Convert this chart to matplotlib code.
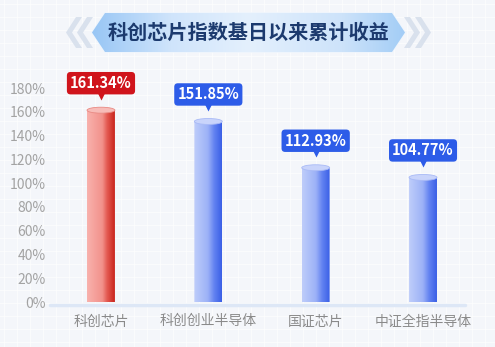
import matplotlib.pyplot as plt
import numpy as np
from matplotlib.patches import Polygon, Ellipse, PathPatch
from matplotlib.path import Path
from matplotlib.colors import LinearSegmentedColormap
from matplotlib.transforms import ScaledTranslation

plt.rcParams['font.family'] = ['Noto Sans CJK SC', 'DejaVu Sans']

title = '科创芯片指数基日以来累计收益'
categories = ['科创芯片', '科创创业半导体', '国证芯片', '中证全指半导体']
values = [161.34, 151.85, 112.93, 104.77]
yticks = [0, 20, 40, 60, 80, 100, 120, 140, 160, 180]
highlight = [True, False, False, False]

W, H = 495, 347
fig = plt.figure(figsize=(W / 100, H / 100), dpi=100)
fig.patch.set_facecolor('#f4f6fa')

# background layer, pixel coords (y down)
bg = fig.add_axes([0, 0, 1, 1], zorder=0)
bg.set_xlim(0, W)
bg.set_ylim(H, 0)
bg.axis('off')
for gx in np.arange(4, W, 13):
    bg.axvline(gx, color='white', lw=0.7, alpha=0.6)
for gy in np.arange(4, H, 13):
    bg.axhline(gy, color='white', lw=0.7, alpha=0.6)

# main chart
ax = fig.add_axes([47.3 / W, (H - 302) / H, 429.4 / W, 214 / H], zorder=1)
ax.patch.set_visible(False)
for s in ax.spines.values():
    s.set_visible(False)

red_cmap = LinearSegmentedColormap.from_list(
    'r', [(0, '#f9b2ad'), (0.55, '#f2918b'), (0.72, '#e45a52'), (1, '#c8231c')])
blue_cmap = LinearSegmentedColormap.from_list(
    'b', [(0, '#bfcdfa'), (0.5, '#9cb1f7'), (0.72, '#6383f1'), (1, '#3a5fe6')])

w = 0.26
e = 5.0
grad = np.linspace(0, 1, 256).reshape(1, -1)

ax.plot([-0.475, 3.39], [-2.5, -2.5], color='#dde7f6', lw=2.5,
        solid_capstyle='round', zorder=1, clip_on=False)

for i, (v, hl) in enumerate(zip(values, highlight)):
    x = i
    t = np.linspace(np.pi, 2 * np.pi, 40)
    verts = [(x - w / 2, v)] + list(zip(x + w / 2 * np.cos(t), e / 2 * np.sin(t))) \
        + [(x + w / 2, v), (x - w / 2, v)]
    clip = PathPatch(Path(verts), transform=ax.transData, fc='none', ec='none')
    ax.add_patch(clip)
    im = ax.imshow(grad, cmap=red_cmap if hl else blue_cmap, aspect='auto',
                   extent=[x - w / 2, x + w / 2, -e, v], zorder=2, interpolation='bicubic')
    im.set_clip_path(clip)
    top_c = '#f7bcb8' if hl else '#c9d4fb'
    edge_c = '#e98a84' if hl else '#a9baf6'
    ax.add_patch(Ellipse((x, v), w, e, fc=top_c, ec=edge_c, lw=0.6, zorder=3,
                         clip_on=False))

    box_c = '#d0141c' if hl else '#2d5ce8'
    ax.annotate(f'{v:.2f}%', (x, v), xytext=(0, 27), textcoords='offset pixels',
                ha='center', va='center', color='white', fontsize=10.5,
                fontweight='bold', annotation_clip=False, zorder=5,
                bbox=dict(boxstyle='round,pad=0.22,rounding_size=0.25', fc=box_c, ec='none'))
    tr = ax.transData + ScaledTranslation(0, 0.145, fig.dpi_scale_trans)
    ax.plot(x, v, marker='v', ms=6, color=box_c, mec='none', transform=tr,
            clip_on=False, zorder=4)

ax.set_xlim(-0.5, 3.5)
ax.set_ylim(0, 180)
ax.set_yticks(yticks)
ax.set_yticklabels([f'{t}%' for t in yticks], color='#a3a3a3', fontsize=10)
ax.set_xticks(range(len(categories)))
ax.set_xticklabels(categories, color='#8a8a8a', fontsize=10)
ax.tick_params(axis='y', length=0, pad=1)
ax.tick_params(axis='x', length=0, pad=9)

# title banner
top = fig.add_axes([0, 0, 1, 1], zorder=3)
top.set_xlim(0, W)
top.set_ylim(H, 0)
top.axis('off')
top.patch.set_visible(False)

banner = Polygon([(92, 32.5), (105, 13), (392, 13), (405, 32.5), (392, 52), (105, 52)],
                 closed=True, fc='none', ec='#eef5fd', lw=1.0)
top.add_patch(banner)
ban_cmap = LinearSegmentedColormap.from_list(
    'ban', [(0, '#98c6f5'), (0.25, '#cfe4fb'), (0.5, '#e4f0fd'), (0.8, '#cde3fa'), (1, '#a3cdf6')])
bim = top.imshow(grad, cmap=ban_cmap, aspect='auto', extent=[92, 405, 52, 13], zorder=1)
bim.set_clip_path(banner)
top.text(248.5, 32.5, title, ha='center', va='center', fontsize=14.5,
         fontweight='bold', color='#1c3a6e', zorder=2)

for dx in (0, 11):
    left = [(66 + dx, 32.5), (76 + dx, 17), (82 + dx, 17), (72 + dx, 32.5), (82 + dx, 48), (76 + dx, 48)]
    right = [(497 - px, py) for px, py in left]
    top.add_patch(Polygon(left, closed=True, fc='#d3dcea', ec='none', alpha=0.8))
    top.add_patch(Polygon(right, closed=True, fc='#d3dcea', ec='none', alpha=0.8))

fig.savefig('out.png', dpi=100, facecolor=fig.get_facecolor())
